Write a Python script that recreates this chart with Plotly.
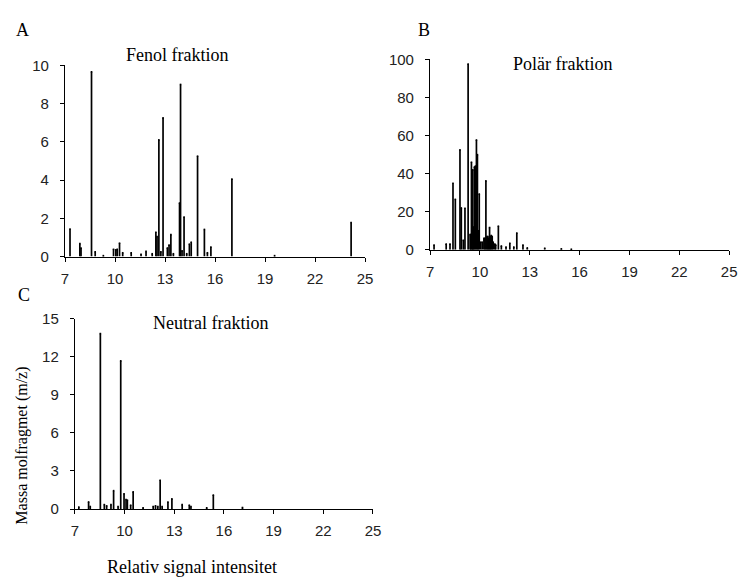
import plotly.graph_objects as go

# ---- data (retention time, intensity) ----
fenol_rt = [7.30, 7.89, 7.96, 8.59, 8.81, 9.3, 9.91, 10.05, 10.13, 10.27, 10.46, 10.97,
            11.56, 11.86, 12.23, 12.45, 12.52, 12.63, 12.75, 12.88, 13.14, 13.24, 13.35,
            13.5, 13.87, 13.93, 14.02, 14.14, 14.3, 14.46, 14.57, 14.95, 15.36, 15.54,
            15.75, 17.01, 19.57, 24.16]
fenol_int = [1.44, 0.68, 0.45, 9.66, 0.25, 0.05, 0.38, 0.35, 0.38, 0.70, 0.20, 0.20,
             0.12, 0.27, 0.15, 1.27, 1.05, 6.10, 0.25, 7.25, 0.45, 0.60, 1.15,
             0.15, 2.80, 9.00, 0.30, 2.07, 0.15, 0.65, 0.75, 5.25, 1.42, 0.20,
             0.50, 4.05, 0.05, 1.78]

polar_rt = [7.24, 7.97, 8.20, 8.38, 8.52, 8.80, 8.88, 9.00, 9.10, 9.29, 9.41, 9.45,
            9.49, 9.55, 9.57, 9.62, 9.67, 9.73, 9.79, 9.85, 9.90, 9.96, 10.05, 10.14,
            10.24, 10.30, 10.36, 10.42, 10.48, 10.52, 10.58, 10.62, 10.68, 10.74,
            10.80, 10.90, 10.95, 11.11, 11.29, 11.57, 11.80, 12.04, 12.22, 12.59,
            12.85, 13.90, 14.90, 15.50]
polar_int = [2.5, 3.0, 3.0, 35.0, 26.5, 52.5, 22.0, 5.0, 21.8, 97.6, 8.0, 8.0,
             46.0, 10.0, 42.0, 12.0, 43.5, 44.0, 57.7, 50.0, 10.0, 29.3, 4.0, 4.0,
             6.0, 6.0, 36.2, 7.0, 7.0, 6.0, 11.7, 7.0, 7.5, 7.0,
             4.0, 3.0, 2.5, 12.4, 2.0, 1.5, 3.4, 1.5, 8.8, 2.5,
             1.0, 0.8, 0.5, 0.3]

neutral_rt = [7.24, 7.83, 7.93, 8.54, 8.78, 8.92, 9.18, 9.34, 9.61, 9.77, 9.97, 10.09,
              10.17, 10.37, 10.52, 11.12, 11.73, 11.87, 12.01, 12.15, 12.27, 12.62,
              12.86, 13.48, 13.91, 14.01, 14.96, 15.36, 17.12]
neutral_int = [0.15, 0.56, 0.20, 13.83, 0.35, 0.25, 0.35, 1.45, 0.20, 11.68, 1.20, 0.75,
               0.70, 0.30, 1.35, 0.10, 0.20, 0.25, 0.20, 2.27, 0.20, 0.56,
               0.80, 0.35, 0.30, 0.20, 0.10, 1.10, 0.12]

x_ticks = [7, 10, 13, 16, 19, 22, 25]
fenol_yticks = [0, 2, 4, 6, 8, 10]
polar_yticks = [0, 20, 40, 60, 80, 100]
neutral_yticks = [0, 3, 6, 9, 12, 15]

panel_titles = ["Fenol fraktion", "Polär fraktion", "Neutral fraktion"]
panel_letters = ["A", "B", "C"]
x_title = "Relativ signal intensitet"
y_title = "Massa molfragmet (m/z)"

W, H = 749, 585

fig = go.Figure()
series = [(fenol_rt, fenol_int, "x", "y"),
          (polar_rt, polar_int, "x2", "y2"),
          (neutral_rt, neutral_int, "x3", "y3")]
for rt, inten, xa, ya in series:
    # each peak drawn as a vertical stick from its height down to the baseline
    fig.add_trace(go.Scatter(
        x=rt, y=inten, xaxis=xa, yaxis=ya, mode="markers",
        marker=dict(size=1.6, color="black", symbol="square"),
        error_y=dict(type="data", symmetric=False, array=[0] * len(inten),
                     arrayminus=inten, thickness=1.7, width=0, color="black"),
        showlegend=False, hoverinfo="x+y", cliponaxis=False))

tickfont = dict(family="Liberation Sans, Arial, sans-serif", size=15, color="#222222")
serif = "Liberation Serif, Times New Roman, serif"

def px_x(a, b):
    return [a / W, b / W]

def px_y(top, bottom):
    return [1 - bottom / H, 1 - top / H]

def xaxis(dom, anchor):
    return dict(domain=dom, anchor=anchor, range=[7, 25], tickvals=x_ticks,
                showgrid=False, zeroline=False, showline=True, linecolor="black",
                linewidth=1.2, ticks="outside", ticklen=4, tickcolor="black",
                ticklabelstandoff=4, tickfont=tickfont, fixedrange=True)

def yaxis(dom, anchor, rng, ticks):
    return dict(domain=dom, anchor=anchor, range=rng, tickvals=ticks,
                showgrid=False, zeroline=False, showline=True, linecolor="black",
                linewidth=1.2, ticks="outside", ticklen=4, tickcolor="black",
                ticklabelstandoff=8, tickfont=tickfont, fixedrange=True)

fig.update_layout(
    width=W, height=H, margin=dict(l=0, r=0, t=0, b=0),
    paper_bgcolor="white", plot_bgcolor="white",
    xaxis=xaxis(px_x(62, 367), "y"),
    yaxis=yaxis(px_y(58, 255), "x", [0, 10], fenol_yticks),
    xaxis2=xaxis(px_x(433, 737), "y2"),
    yaxis2=yaxis(px_y(52, 248), "x2", [0, 100], polar_yticks),
    xaxis3=xaxis(px_x(72, 375), "y3"),
    yaxis3=yaxis(px_y(319, 515), "x3", [0, 15], neutral_yticks),
)

annots = []
# panel titles
for txt, (cx, cy) in zip(panel_titles, [(176, 47), (568, 57), (210, 323)]):
    annots.append(dict(text=txt, x=cx / W, y=1 - cy / H, xref="paper", yref="paper",
                       showarrow=False, xanchor="center", yanchor="middle",
                       font=dict(family=serif, size=18, color="black")))
# panel letters
for txt, (cx, cy) in zip(panel_letters, [(19, 22), (427, 22), (20, 295)]):
    annots.append(dict(text=txt, x=cx / W, y=1 - cy / H, xref="paper", yref="paper",
                       showarrow=False, xanchor="center", yanchor="middle",
                       font=dict(family=serif, size=18, color="black")))
annots.append(dict(text=x_title, x=191 / W, y=1 - 575 / H, xref="paper", yref="paper",
                   showarrow=False, xanchor="center", yanchor="middle",
                   font=dict(family=serif, size=18, color="black")))
annots.append(dict(text=y_title, x=18 / W, y=1 - 450 / H, xref="paper", yref="paper",
                   showarrow=False, xanchor="center", yanchor="middle", textangle=-90,
                   font=dict(family=serif, size=16, color="black")))
fig.update_layout(annotations=annots)

fig.write_html("out.html")
